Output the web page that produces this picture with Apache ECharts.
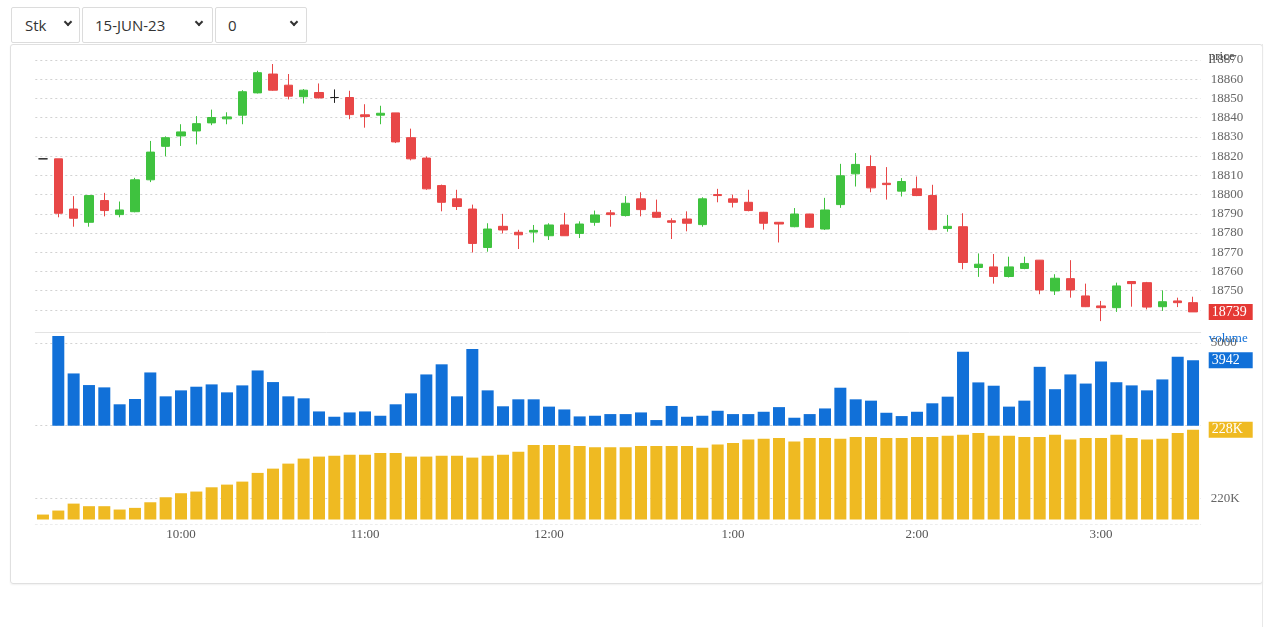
<!DOCTYPE html>
<html><head><meta charset="utf-8">
<script src="https://cdn.jsdelivr.net/npm/echarts@6/dist/echarts.min.js"></script>
<style>
html,body{margin:0;padding:0;background:#fff;width:1280px;height:627px;overflow:hidden;font-family:"Open Sans","Noto Sans",sans-serif;}
.sel{position:absolute;top:7px;height:36px;border:1px solid #dcdcdc;border-radius:2px;background:#fff;box-sizing:border-box;font-size:15px;color:#333;line-height:34px;}
.sel .chev{position:absolute;top:11px;width:4px;height:4px;border-right:2px solid #333;border-bottom:2px solid #333;transform:rotate(45deg);}
#box{position:absolute;left:10px;top:44px;width:1253px;height:540px;border:1px solid #e0e0e0;border-radius:3px;box-sizing:border-box;box-shadow:0 1px 2px rgba(0,0,0,0.06);}
#vline{position:absolute;left:1262px;top:44px;width:1px;height:583px;background:#e8e8e8;}
#chart{position:absolute;left:0;top:0;width:1280px;height:627px;}
</style></head>
<body>
<div class="sel" style="left:11px;width:69px;padding-left:13px;">Stk<span class="chev" style="left:53px;"></span></div>
<div class="sel" style="left:82px;width:131px;padding-left:12px;">15-JUN-23<span class="chev" style="left:113px;"></span></div>
<div class="sel" style="left:215px;width:92px;padding-left:12px;">0<span class="chev" style="left:75px;"></span></div>
<div id="box"></div>
<div id="vline"></div>
<div id="chart"></div>
<script>
const categories = ['9:15','9:20','9:25','9:30','9:35','9:40','9:45','9:50','9:55',
'10:00','10:05','10:10','10:15','10:20','10:25','10:30','10:35','10:40','10:45','10:50','10:55',
'11:00','11:05','11:10','11:15','11:20','11:25','11:30','11:35','11:40','11:45','11:50','11:55',
'12:00','12:05','12:10','12:15','12:20','12:25','12:30','12:35','12:40','12:45','12:50','12:55',
'1:00','1:05','1:10','1:15','1:20','1:25','1:30','1:35','1:40','1:45','1:50','1:55',
'2:00','2:05','2:10','2:15','2:20','2:25','2:30','2:35','2:40','2:45','2:50','2:55',
'3:00','3:05','3:10','3:15','3:20','3:25','3:30'];

const opens = [18818.6,18818.6,18792.5,18785.6,18796.9,18789.6,18791.1,18807.7,18825.1,18830.5,
18833.1,18837.3,18839.4,18841.3,18852.9,18862.7,18856.9,18850.9,18853.1,18850.5,
18850.5,18841.5,18841.3,18842.5,18829.6,18819.0,18804.7,18797.8,18792.5,18772.5,
18783.5,18780.4,18780.5,18778.6,18784.2,18779.8,18785.6,18790.5,18789.1,18797.8,
18790.8,18786.4,18787.3,18784.4,18800.0,18797.8,18796.0,18790.8,18785.6,18783.3,
18789.9,18782.1,18794.8,18810.8,18814.6,18805.9,18801.8,18803.0,18799.5,18782.4,
18783.3,18762.1,18762.4,18757.4,18761.6,18765.9,18749.9,18756.3,18747.3,18742.1,
18741.2,18754.8,18754.2,18741.7,18744.7,18743.8];
const closes = [18818.6,18790.3,18787.7,18799.5,18791.7,18792.0,18807.7,18822.1,18829.6,18832.6,
18836.9,18840.1,18840.4,18853.5,18863.4,18854.3,18851.2,18854.3,18850.3,18850.5,
18841.6,18840.6,18842.3,18827.4,18818.6,18803.0,18796.0,18793.8,18774.6,18782.1,
18781.6,18779.1,18781.4,18784.2,18778.6,18784.7,18789.4,18789.6,18795.5,18792.2,
18788.2,18785.6,18785.1,18797.8,18799.5,18796.0,18791.7,18785.1,18784.7,18789.9,
18783.0,18792.0,18809.8,18815.7,18803.5,18805.2,18806.8,18799.5,18781.8,18783.5,
18764.7,18763.8,18757.4,18762.4,18764.2,18750.4,18756.5,18750.4,18741.7,18741.2,
18752.5,18753.7,18741.5,18744.3,18743.8,18739.0];
const lows = [18818.6,18788.2,18783.3,18783.3,18788.7,18788.2,18790.8,18806.5,18819.9,18825.3,
18826.1,18836.1,18836.6,18836.6,18852.6,18854.0,18849.5,18847.4,18850.0,18847.7,
18839.2,18834.8,18836.6,18826.8,18817.8,18802.5,18791.3,18792.0,18769.9,18770.3,
18779.8,18771.7,18775.1,18776.4,18778.6,18777.4,18783.8,18783.3,18788.6,18788.7,
18787.8,18776.9,18780.9,18783.3,18796.0,18793.3,18791.3,18781.8,18775.1,18783.0,
18782.6,18781.6,18793.1,18804.2,18801.2,18797.4,18799.0,18799.2,18781.5,18780.7,
18761.2,18757.2,18753.7,18756.9,18761.2,18748.2,18747.8,18746.4,18741.5,18734.2,
18739.0,18741.7,18740.3,18739.5,18741.5,18739.0];
const highs = [18818.6,18818.6,18799.2,18799.5,18800.9,18796.4,18808.7,18827.9,18830.3,18836.6,
18840.8,18844.2,18842.8,18854.3,18864.4,18867.9,18862.7,18854.9,18857.8,18854.7,
18854.0,18847.0,18846.2,18842.5,18834.3,18819.9,18805.2,18802.5,18794.8,18785.1,
18790.0,18781.7,18784.2,18785.1,18790.5,18786.1,18791.7,18792.0,18799.2,18801.2,
18797.4,18787.7,18791.3,18798.6,18803.0,18800.0,18802.5,18791.0,18785.6,18793.0,
18790.0,18798.3,18816.0,18821.6,18820.4,18814.3,18808.6,18809.4,18805.1,18789.4,
18790.3,18769.4,18769.1,18767.7,18767.7,18766.0,18758.6,18765.9,18753.7,18744.7,
18754.2,18755.0,18754.6,18750.2,18746.4,18746.9];

const volumes = [0,5400,3150,2450,2310,1290,1610,3210,1770,2130,
2350,2490,2010,2430,3330,2630,1770,1650,860,540,
800,860,600,1290,1950,3090,3700,1770,4620,2130,
1170,1590,1590,1150,980,560,600,700,700,800,
340,1190,540,600,900,700,700,840,1120,480,
700,1040,2290,1590,1510,780,580,840,1350,1750,
4460,2610,2410,1150,1510,3550,2200,3090,2540,3870,
2620,2430,2130,2790,4150,3942];

const openInterest = [218090,218570,219400,219090,219090,218690,218890,219560,220160,220640,
220840,221350,221670,222030,223070,223580,224180,224780,225020,225130,
225250,225250,225450,225450,225020,225020,225130,225130,224900,225130,
225250,225610,226410,226410,226410,226290,226130,226130,226130,226290,
226290,226290,226290,226090,226450,226650,227050,227160,227240,226810,
227240,227240,227160,227360,227360,227240,227240,227360,227360,227520,
227640,227840,227520,227520,227360,227360,227640,227050,227240,227240,
227640,227240,227050,227160,227840,228240];

const priceTicks = {min:18730, max:18870, step:10, firstLabel:18750};
const volumeTicks = {min:0, max:5600, step:5000, label:5000};
const oiTicks = {min:217500, max:228700, step:2500, label:220000};

const RED = '#e84747', GREEN = '#3fc23f', BLUE = '#1170d8', YELLOW = '#efba22';
const SERIF = '"Liberation Serif","DejaVu Serif",serif';
const GRID_L = 35.3, GRID_R = 79.3;
const NONE = 'rgba(0,0,0,0)';

const candleData = opens.map((o,i)=>[o, closes[i], lows[i], highs[i]]);
const lastClose = closes[closes.length-1];
const lastVol = volumes[volumes.length-1];
const lastOI = openInterest[openInterest.length-1];

const nPriceTicks = Math.round((priceTicks.max-priceTicks.min)/priceTicks.step)+1;
const priceSplitColors = Array.from({length:nPriceTicks},(_,i)=> i===0 ? NONE : '#d2d2d2');
const dotted = [2,3];

function valueLabel(text, bg){
  return {show:true, position:'end', distance:8, formatter:text, backgroundColor:bg, color:'#fff', opacity:1,
    fontFamily:SERIF, fontSize:14, padding:[1,3,0,3], width:38, align:'left', lineHeight:15};
}
function valueMarker(value, text, bg){
  return {symbol:'none', silent:true, animation:false,
    data:[{yAxis:value, lineStyle:{color:NONE, width:1, opacity:1}, label:valueLabel(text, bg)}]};
}
const axisLabelBase = {color:'#666', fontFamily:SERIF, fontSize:13, margin:10};

const chart = echarts.init(document.getElementById('chart'));
chart.setOption({
  animation:false,
  grid:[
    {left:GRID_L, right:GRID_R, top:60, height:269.2},
    {left:GRID_L, right:GRID_R, top:332.8, height:92.9},
    {left:GRID_L, right:GRID_R, top:425.8, height:93.7}
  ],
  xAxis:[
    {type:'category', gridIndex:0, data:categories, axisLabel:{show:false}, axisTick:{show:false},
     axisLine:{show:true, onZero:false, lineStyle:{color:'#e3e3e3'}}, offset:3},
    {type:'category', gridIndex:1, data:categories, axisLabel:{show:false}, axisTick:{show:false}, axisLine:{show:false}},
    {type:'category', gridIndex:2, data:categories, axisTick:{show:false},
     axisLine:{show:true, onZero:false, lineStyle:{color:'#ececec', type:dotted}}, offset:5,
     axisLabel:{interval:(i,v)=>v.endsWith(':00'), color:'#555', fontFamily:SERIF, fontSize:13, margin:4}}
  ],
  yAxis:[
    {type:'value', gridIndex:0, position:'right', min:priceTicks.min, max:priceTicks.max, interval:priceTicks.step,
     name:'price', nameLocation:'end', nameGap:3, nameMoveOverlap:false,
     nameTextStyle:{align:'left', verticalAlign:'middle', padding:[0,0,0,8], color:'#333', fontFamily:SERIF, fontSize:13},
     axisLine:{show:false}, axisTick:{show:false},
     axisLabel:Object.assign({}, axisLabelBase, {formatter:v=> v>=priceTicks.firstLabel ? String(v) : ''}),
     splitLine:{show:true, lineStyle:{color:priceSplitColors, type:dotted}}},
    {type:'value', gridIndex:1, position:'right', min:volumeTicks.min, max:volumeTicks.max, interval:volumeTicks.step,
     name:'volume', nameLocation:'end', nameGap:-6, nameMoveOverlap:false,
     nameTextStyle:{align:'left', verticalAlign:'middle', padding:[0,0,0,8], color:BLUE, fontFamily:SERIF, fontSize:13},
     axisLine:{show:false}, axisTick:{show:false},
     axisLabel:Object.assign({}, axisLabelBase, {formatter:v=> v===volumeTicks.label ? String(v) : ''}),
     splitLine:{show:true, lineStyle:{color:['#d2d2d2','#d2d2d2',NONE], type:dotted}}},
    {type:'value', gridIndex:2, position:'right', min:oiTicks.min, max:oiTicks.max, interval:oiTicks.step,
     axisLine:{show:false}, axisTick:{show:false},
     axisLabel:Object.assign({}, axisLabelBase, {formatter:v=> v===oiTicks.label ? Math.round(v/1000)+'K' : ''}),
     splitLine:{show:true, lineStyle:{color:[NONE,'#d2d2d2',NONE,NONE,NONE,NONE], type:dotted}}}
  ],
  series:[
    {type:'candlestick', xAxisIndex:0, yAxisIndex:0, data:candleData, barWidth:9,
     itemStyle:{color:GREEN, color0:RED, borderColor:GREEN, borderColor0:RED, borderColorDoji:'#222', borderWidth:1},
     markLine:valueMarker(lastClose, String(Math.round(lastClose)), '#e53935')},
    {type:'bar', xAxisIndex:1, yAxisIndex:1, data:volumes, barWidth:12, itemStyle:{color:BLUE},
     markLine:valueMarker(lastVol, String(lastVol), BLUE)},
    {type:'bar', xAxisIndex:2, yAxisIndex:2, data:openInterest, barWidth:12, clip:true, itemStyle:{color:YELLOW},
     markLine:valueMarker(lastOI, Math.round(lastOI/1000)+'K', YELLOW)}
  ]
});
</script>
</body></html>
